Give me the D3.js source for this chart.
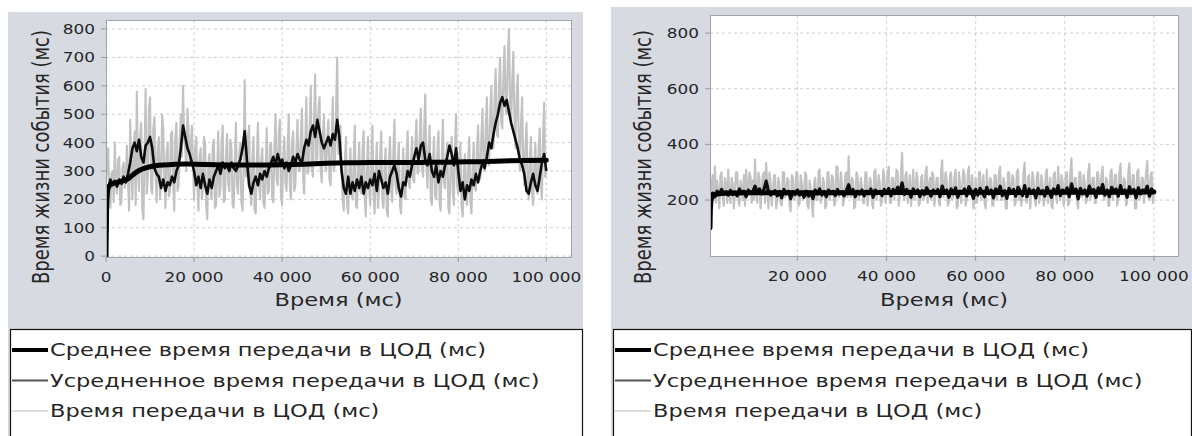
<!DOCTYPE html>
<html><head><meta charset="utf-8">
<script src="https://cdn.jsdelivr.net/npm/d3@7"></script>
<style>
body{margin:0;background:#fff;}
text{font-family:"DejaVu Sans",sans-serif;fill:#262626;}
</style>
</head><body>
<svg id="chart" width="1192" height="436"></svg>
<script>
// ---------------- DATA ----------------
const rawStep = 250;     // ms between samples of the raw series
const movingStep = 500;  // ms between samples of the averaged series
const seriesNames = ["Среднее время передачи в ЦОД (мс)", "Усредненное время передачи в ЦОД (мс)", "Время передачи в ЦОД (мс)"];
const xTitle = "Время (мс)";
const yTitle = "Время жизни события (мс)";
const leftXTicks = [0, 20000, 40000, 60000, 80000, 100000];
const leftYTicks = [0, 100, 200, 300, 400, 500, 600, 700, 800];
const rightXTicks = [20000, 40000, 60000, 80000, 100000];
const rightYTicks = [200, 400, 600, 800];

const leftRaw = [
260,330,380,210,170,290,300,190,400,250,220,340,350,180,190,310,330,240,270,390,
260,160,480,300,200,360,440,180,580,310,230,420,470,160,130,350,590,220,280,520,
560,240,220,450,490,300,190,380,420,200,250,500,450,270,170,360,400,210,220,430,
440,260,160,420,470,230,250,410,500,350,600,420,380,300,520,440,320,380,460,330,
200,380,420,260,160,350,380,200,230,420,400,180,130,330,360,220,200,390,410,170,
180,300,440,210,240,400,460,190,200,350,430,260,230,410,380,180,170,330,470,250,
220,360,400,190,160,310,620,280,300,420,460,230,180,350,420,160,150,330,470,260,
200,340,380,190,170,300,450,220,230,390,400,200,190,380,500,270,250,440,480,210,
180,340,420,260,230,380,500,250,200,400,440,230,250,380,480,300,300,420,520,280,
220,400,560,290,300,450,600,310,280,480,640,330,350,520,560,300,260,430,500,320,
300,420,480,270,250,400,560,300,330,520,700,360,380,460,300,200,160,330,420,180,
150,290,380,220,200,340,460,180,170,300,400,230,220,360,440,200,140,310,420,240,
180,320,460,220,150,300,400,170,230,350,440,200,170,310,380,160,140,330,420,230,
190,360,480,250,220,330,400,180,150,280,380,210,200,350,440,260,240,330,420,270,
260,400,480,290,300,420,520,310,280,450,570,330,240,380,460,200,180,330,420,210,
200,360,440,190,160,330,480,260,240,350,400,170,150,320,420,230,180,380,500,250,
220,340,400,170,140,290,360,200,180,340,420,190,150,310,400,240,230,380,460,290,
270,420,520,310,300,460,560,340,320,500,600,400,380,560,660,430,420,600,700,470,
450,640,740,520,500,700,800,560,460,620,720,480,380,560,640,400,300,470,560,330,
250,380,470,260,200,340,420,230,180,320,400,240,220,380,450,250,200,420,540,280,
300];

const leftMoving = [0,240,270,250,265,245,270,255,280,260,
290,330,380,400,370,410,350,330,390,400,
420,380,310,290,280,240,270,230,260,250,
280,260,300,320,380,460,420,380,360,330,
300,250,280,240,290,250,220,270,240,280,
300,320,290,330,310,320,300,330,310,300,
320,340,380,440,340,250,220,260,280,250,
290,270,300,280,310,330,350,320,360,330,
340,310,330,300,320,350,330,360,340,330,
380,410,390,440,460,420,480,440,400,380,
400,420,390,430,410,480,420,300,240,220,
280,220,260,230,270,240,280,220,260,240,
270,250,290,230,300,270,240,260,220,280,
300,320,290,240,210,260,250,300,280,320,
350,380,340,390,400,340,320,360,300,280,
320,260,300,280,320,350,390,360,320,380,
300,230,260,200,250,230,270,250,290,260,
300,330,310,350,400,380,430,470,500,540,
560,530,550,510,470,440,410,380,340,320,
290,230,220,260,290,250,230,280,330,360,
300];

const leftMeanTimes = [0,200,500,1000,2000,3000,4000,5000,6000,7000,8000,9000,10000,12000,15000,18000,20000,25000,30000,35000,40000,45000,50000,55000,60000,65000,70000,75000,80000,85000,90000,95000,100000];
const leftMeanValues = [0,200,240,252,258,262,266,272,285,297,305,311,315,320,323,325,324,322,321,321,322,324,327,329,330,330,330,331,332,333,335,337,338];

const rightRaw = [
240,300,180,260,290,200,320,190,270,230,170,290,300,210,180,280,250,190,310,220,
190,280,260,170,230,300,300,200,180,270,250,200,290,180,310,240,220,300,280,190,
270,200,346,220,190,300,280,170,240,290,300,190,333,250,170,300,260,180,220,290,
290,170,200,280,250,190,180,300,300,210,230,280,270,180,160,290,280,200,210,300,
300,180,190,290,260,200,220,300,290,180,170,270,240,190,140,260,280,200,200,300,
310,190,210,280,260,170,180,300,300,200,230,290,280,180,190,320,320,210,220,300,
260,180,200,290,300,210,357,240,210,280,270,170,180,300,290,200,230,280,250,190,
190,300,300,180,220,280,270,190,170,300,310,200,240,290,260,180,200,310,290,190,
230,300,320,190,190,280,280,200,250,310,300,180,215,300,370,220,200,290,300,190,
240,290,180,230,310,200,230,300,270,180,190,280,290,200,210,300,320,190,250,280,
200,300,290,180,230,280,280,190,180,300,343,210,240,300,270,180,190,290,300,200,
220,280,310,170,180,300,260,190,240,310,290,180,200,300,320,220,230,290,170,190,
280,190,210,300,300,200,240,290,190,170,310,230,220,280,270,180,180,290,290,200,
240,300,320,200,200,280,260,170,170,300,300,220,230,290,280,180,190,300,310,200,
250,180,210,300,335,200,190,280,290,170,230,300,270,200,180,290,300,190,220,290,
260,180,200,300,310,190,240,280,180,170,290,300,220,190,320,250,200,290,270,180,
230,290,300,180,190,300,350,220,240,280,280,190,170,300,300,210,220,290,260,190,
200,300,330,200,230,280,280,190,190,300,300,220,250,290,320,200,210,280,270,180,
180,300,310,200,240,290,290,180,200,300,330,220,220,280,270,180,190,300,333,210,
230,290,290,170,170,300,310,200,220,280,280,190,250,300,340,210,200,290,300,190,
230];

const rightMoving = [100,215,225,212,232,220,238,222,230,218,
235,220,228,215,240,225,232,212,236,224,
230,250,228,240,222,238,268,232,218,226,
234,215,230,208,238,222,232,205,230,220,
236,218,228,210,232,214,226,205,236,222,
240,218,230,212,236,224,232,216,238,222,
230,215,235,255,225,238,212,232,222,236,
215,232,224,240,210,236,226,232,216,238,
225,242,215,238,228,246,230,262,220,238,
232,210,240,226,236,212,234,220,244,228,
214,236,224,238,212,250,228,236,210,240,
222,244,210,232,226,240,215,248,230,206,
238,218,242,228,212,246,222,236,208,240,
226,250,216,234,206,242,224,238,214,246,
232,216,252,212,240,226,236,208,242,222,
234,214,246,228,210,240,222,252,216,236,
226,244,212,258,230,240,204,242,222,236,
214,250,228,238,210,244,232,256,218,236,
212,246,230,240,214,252,224,236,210,248,
226,238,208,244,222,236,230,250,214,240,
228];

const rightMeanTimes = [400,500,700,1000,1500,2500,5000,10000,20000,30000,40000,50000,60000,70000,80000,90000,100000];
const rightMeanValues = [100,170,205,216,220,223,225,226,226,226,227,227,228,227,228,228,229];

// ---------------- DRAWING ----------------
const SX = 1.25; // horizontal stretch of the text in the reference
const svg = d3.select("#chart");
const fmt = v => d3.format(",")(v).replace(/,/g, "\u00a0");

function txt(g, x, y, s, size, anchor, rot) {
  return g.append("text")
    .attr("transform", `translate(${x},${y}) scale(${SX},1)` + (rot ? ` rotate(${rot})` : ""))
    .attr("text-anchor", anchor || "start")
    .attr("font-size", size)
    .text(s);
}

const panels = [
  { id: "L", bg: [8, 12, 575, 430], plot: [106, 20, 571, 257], xDom: [0, 105600], yDom: [-3, 832],
    xTicks: leftXTicks, yTicks: leftYTicks, raw: leftRaw, moving: leftMoving,
    meanT: leftMeanTimes, meanV: leftMeanValues, yTitleX: 49, legend: [10, 329, 572, 120],
    rawW: 2.1, movW: 2.6 },
  { id: "R", bg: [611, 7, 581, 435], plot: [710, 15, 1178, 256], xDom: [400, 105400], yDom: [-1, 865],
    xTicks: rightXTicks, yTicks: rightYTicks, raw: rightRaw, moving: rightMoving,
    meanT: rightMeanTimes, meanV: rightMeanValues, yTitleX: 651, legend: [613, 329, 578, 120],
    rawW: 2.1, movW: 3.2 }
];

panels.forEach(p => {
  const g = svg.append("g");
  const [x0, y0, x1, y1] = p.plot;
  g.append("rect").attr("x", p.bg[0]).attr("y", p.bg[1]).attr("width", p.bg[2]).attr("height", p.bg[3]).attr("fill", "#d7dae1");
  g.append("rect").attr("x", x0).attr("y", y0).attr("width", x1 - x0).attr("height", y1 - y0).attr("fill", "#fff");

  const x = d3.scaleLinear().domain(p.xDom).range([x0, x1]);
  const y = d3.scaleLinear().domain(p.yDom).range([y1, y0]);

  // grid
  g.selectAll(".gx").data(p.xTicks).join("line")
    .attr("x1", d => x(d)).attr("x2", d => x(d)).attr("y1", y0).attr("y2", y1)
    .attr("stroke", "#cfcfcf").attr("stroke-dasharray", "3,3");
  g.selectAll(".gy").data(p.yTicks).join("line")
    .attr("x1", x0).attr("x2", x1).attr("y1", d => y(d)).attr("y2", d => y(d))
    .attr("stroke", "#cfcfcf").attr("stroke-dasharray", "3,3");

  // clip
  const cid = "clip" + p.id;
  svg.append("defs").append("clipPath").attr("id", cid)
    .append("rect").attr("x", x0).attr("y", y0).attr("width", x1 - x0).attr("height", y1 - y0);
  const lg = g.append("g").attr("clip-path", `url(#${cid})`);

  const line = d3.line().x(d => x(d[0])).y(d => y(d[1]));
  const rawPts = p.raw.map((v, i) => [i * rawStep, v]);
  const movPts = p.moving.map((v, i) => [i * movingStep, v]);
  const meanPts = p.meanT.map((t, i) => [t, p.meanV[i]]);

  lg.append("path").datum(rawPts).attr("d", line).attr("fill", "none")
    .attr("stroke", "#c2c2c2").attr("stroke-width", p.rawW).attr("stroke-linejoin", "round");
  lg.append("path").datum(movPts).attr("d", line).attr("fill", "none")
    .attr("stroke", "#0d0d0d").attr("stroke-width", p.movW).attr("stroke-linejoin", "round");
  lg.append("path").datum(meanPts).attr("d", d3.line().x(d => x(d[0])).y(d => y(d[1])).curve(d3.curveMonotoneX))
    .attr("fill", "none").attr("stroke", "#000").attr("stroke-width", 5).attr("stroke-linecap", "round");

  // frame
  g.append("rect").attr("x", x0 + 0.5).attr("y", y0 + 0.5).attr("width", x1 - x0).attr("height", y1 - y0)
    .attr("fill", "none").attr("stroke", "#a3a3a3");

  // ticks
  g.selectAll(".tx").data(p.xTicks).join("line")
    .attr("x1", d => x(d)).attr("x2", d => x(d)).attr("y1", y1).attr("y2", y1 + 5).attr("stroke", "#999");
  g.selectAll(".ty").data(p.yTicks).join("line")
    .attr("x1", x0 - 5).attr("x2", x0).attr("y1", d => y(d)).attr("y2", d => y(d)).attr("stroke", "#999");
  p.xTicks.forEach(t => txt(g, x(t), y1 + 25, fmt(t), 13.5, "middle"));
  p.yTicks.forEach(t => txt(g, x0 - 11, y(t) + 5, fmt(t), 13.5, "end"));

  // titles
  txt(g, (x0 + x1) / 2, 306, xTitle, 18, "middle");
  txt(g, p.yTitleX, 157, yTitle, 18, "middle", -90);

  // legend
  const [lx, ly, lw, lh] = p.legend;
  g.append("rect").attr("x", lx + 0.5).attr("y", ly + 0.5).attr("width", lw).attr("height", lh)
    .attr("fill", "#fff").attr("stroke", "#111").attr("stroke-width", 1.2);
  const lstyles = [{c: "#000", w: 4}, {c: "#555", w: 2}, {c: "#dedede", w: 2}];
  seriesNames.forEach((name, i) => {
    const yy = ly + 21 + i * 30.5;
    g.append("line").attr("x1", lx + 2).attr("x2", lx + 38).attr("y1", yy).attr("y2", yy)
      .attr("stroke", lstyles[i].c).attr("stroke-width", lstyles[i].w);
    txt(g, lx + 40, yy + 6, name, 18, "start");
  });
});
</script>
</body></html>
